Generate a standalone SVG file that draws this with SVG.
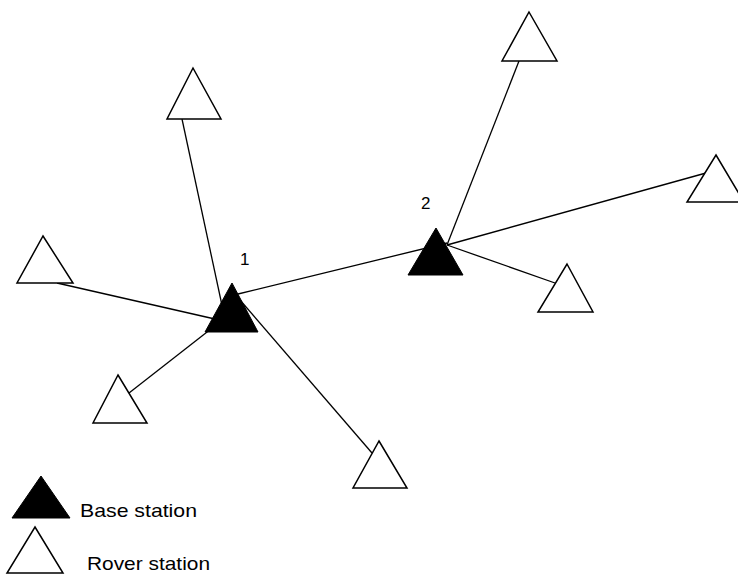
<svg xmlns="http://www.w3.org/2000/svg" width="738" height="575" viewBox="0 0 738 575">
<style>
.ln{stroke:#000;stroke-width:1.3;fill:none}
.rover{fill:#fff;stroke:#000;stroke-width:1.5;stroke-linejoin:miter}
.base{fill:#000;stroke:#000;stroke-width:1}
.lbl{font-family:"Liberation Sans",Arial,sans-serif;fill:#000}
</style>
<rect width="738" height="575" fill="#fff"/>
<g id="connectors">
<line class="ln" x1="182" y1="119" x2="223" y2="310"/>
<line class="ln" x1="57" y1="283" x2="228" y2="322"/>
<line class="ln" x1="129" y1="393" x2="225" y2="318"/>
<line class="ln" x1="372" y1="453" x2="240" y2="300"/>
<line class="ln" x1="238" y1="294" x2="447" y2="243"/>
<line class="ln" x1="519" y1="61" x2="447" y2="245"/>
<line class="ln" x1="447" y1="245" x2="706" y2="173"/>
<line class="ln" x1="447" y1="245" x2="555" y2="283"/>
</g>
<g id="rover-topleft"><polygon class="rover" points="193,68 221,119 167,119"/></g>
<g id="rover-top"><polygon class="rover" points="529,12 557,61 502,61"/></g>
<g id="rover-right"><polygon class="rover" points="716,155 744,202 687,202"/></g>
<g id="rover-left"><polygon class="rover" points="43,236 73,283 17,283"/></g>
<g id="rover-lowerleft"><polygon class="rover" points="118,375 147,423 93,423"/></g>
<g id="rover-bottom"><polygon class="rover" points="379,441 407,488 353,488"/></g>
<g id="rover-lowerright"><polygon class="rover" points="567,264 593,312 538,312"/></g>
<g id="base1">
<polygon class="base" points="232,283 258,332 205,332"/>
<text class="lbl" x="240" y="265" font-size="17">1</text>
</g>
<g id="base2">
<polygon class="base" points="436,228 463,275 408,275"/>
<text class="lbl" x="421" y="209" font-size="17">2</text>
</g>
<g id="legend-base">
<polygon class="base" points="41,476 70,518 12,518"/>
<text class="lbl" x="80" y="517" font-size="19" textLength="117" lengthAdjust="spacingAndGlyphs">Base station</text>
</g>
<g id="legend-rover">
<polygon class="rover" points="35,527 63,573 7,573"/>
<text class="lbl" x="87" y="570" font-size="19" textLength="123" lengthAdjust="spacingAndGlyphs">Rover station</text>
</g>
</svg>
